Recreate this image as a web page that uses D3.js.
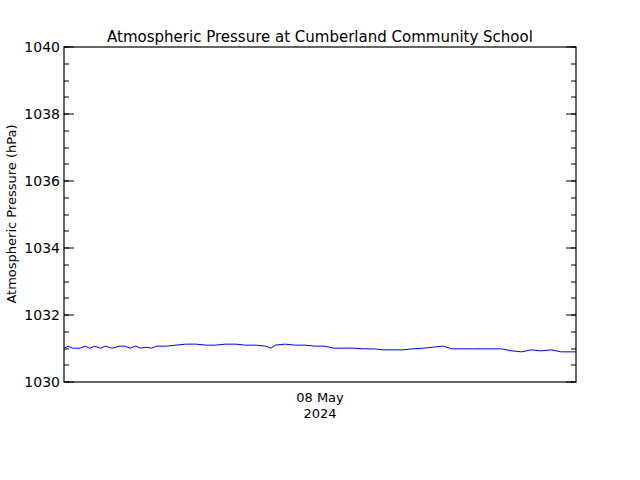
<!DOCTYPE html>
<html><head><meta charset="utf-8">
<script src="https://cdn.jsdelivr.net/npm/d3@7"></script>
<style>body{margin:0;background:#fff}text{font-family:"DejaVu Sans",sans-serif;fill:#000}</style>
</head><body>
<script>
// hours since 07 May 2024 00:00 and pressure (hPa)
const hours = [0,0.4,0.8,1.5,2,2.4,2.9,3.4,3.9,4.5,5.2,5.7,6.2,6.7,7.2,7.7,8.2,8.7,9.6,10.5,11.4,12.4,13.3,14.2,15.1,16.1,17,18,18.9,19.4,19.8,20.7,21.7,22.6,23.5,24.4,25.3,26.3,27.2,28.1,29,30,30.9,31.8,32.7,33.7,34.6,35.5,36.4,37.3,38.3,39.2,40.1,41,42,42.9,43.8,44.7,45.7,46.6,47.5,48];
const pressure = [1031.01,1031.07,1031.01,1031.01,1031.07,1031.01,1031.07,1031.01,1031.07,1031.01,1031.07,1031.07,1031.01,1031.07,1031.01,1031.04,1031.01,1031.07,1031.07,1031.10,1031.13,1031.13,1031.10,1031.10,1031.13,1031.13,1031.10,1031.10,1031.07,1031.01,1031.10,1031.13,1031.10,1031.10,1031.07,1031.07,1031.01,1031.01,1031.01,1030.99,1030.99,1030.96,1030.96,1030.96,1030.99,1031.01,1031.04,1031.07,1030.99,1030.99,1030.99,1030.99,1030.99,1030.99,1030.93,1030.90,1030.96,1030.93,1030.96,1030.90,1030.90,1030.90];
const yTicks = [1030,1032,1034,1036,1038,1040];
const yMinor = d3.range(1030,1040.01,0.5);

const W=640,H=480,L=64,R=576,T=47,B=382;
const svg=d3.select('body').append('svg').attr('width',W).attr('height',H);
const x=d3.scaleLinear().domain([0,48]).range([L,R]);
const y=d3.scaleLinear().domain([1030,1040]).range([B,T]);

svg.append('rect').attr('x',L).attr('y',T).attr('width',R-L).attr('height',B-T)
  .attr('fill','none').attr('stroke','#000').attr('stroke-width',1.2);

const tick=(vals,len)=>{
  svg.selectAll(null).data(vals).enter().append('line')
    .attr('x1',L).attr('x2',L+len).attr('y1',d=>Math.round(y(d))).attr('y2',d=>Math.round(y(d))).attr('stroke','#000');
  svg.selectAll(null).data(vals).enter().append('line')
    .attr('x1',R).attr('x2',R-len).attr('y1',d=>Math.round(y(d))).attr('y2',d=>Math.round(y(d))).attr('stroke','#000');
};
tick(yMinor,5);
tick(yTicks,10);

svg.selectAll('text.yt').data(yTicks).enter().append('text')
  .attr('x',L-4).attr('y',d=>y(d)+5).attr('text-anchor','end').attr('font-size',14).text(d=>d);

svg.append('path').datum(hours.map((h,i)=>[h,pressure[i]]))
  .attr('fill','none').attr('stroke','#0000ff').attr('stroke-width',1)
  .attr('d',d3.line().x(d=>x(d[0])).y(d=>y(d[1])));

svg.append('text').attr('x',x(24)).attr('y',402).attr('text-anchor','middle').attr('font-size',13).text('08 May');
svg.append('text').attr('x',x(24)).attr('y',418).attr('text-anchor','middle').attr('font-size',13).text('2024');
svg.append('text').attr('x',320).attr('y',42).attr('text-anchor','middle').attr('font-size',15).text('Atmospheric Pressure at Cumberland Community School');
svg.append('text').attr('transform','translate(16,214) rotate(-90)').attr('text-anchor','middle').attr('font-size',13).text('Atmospheric Pressure (hPa)');
</script>
</body></html>
